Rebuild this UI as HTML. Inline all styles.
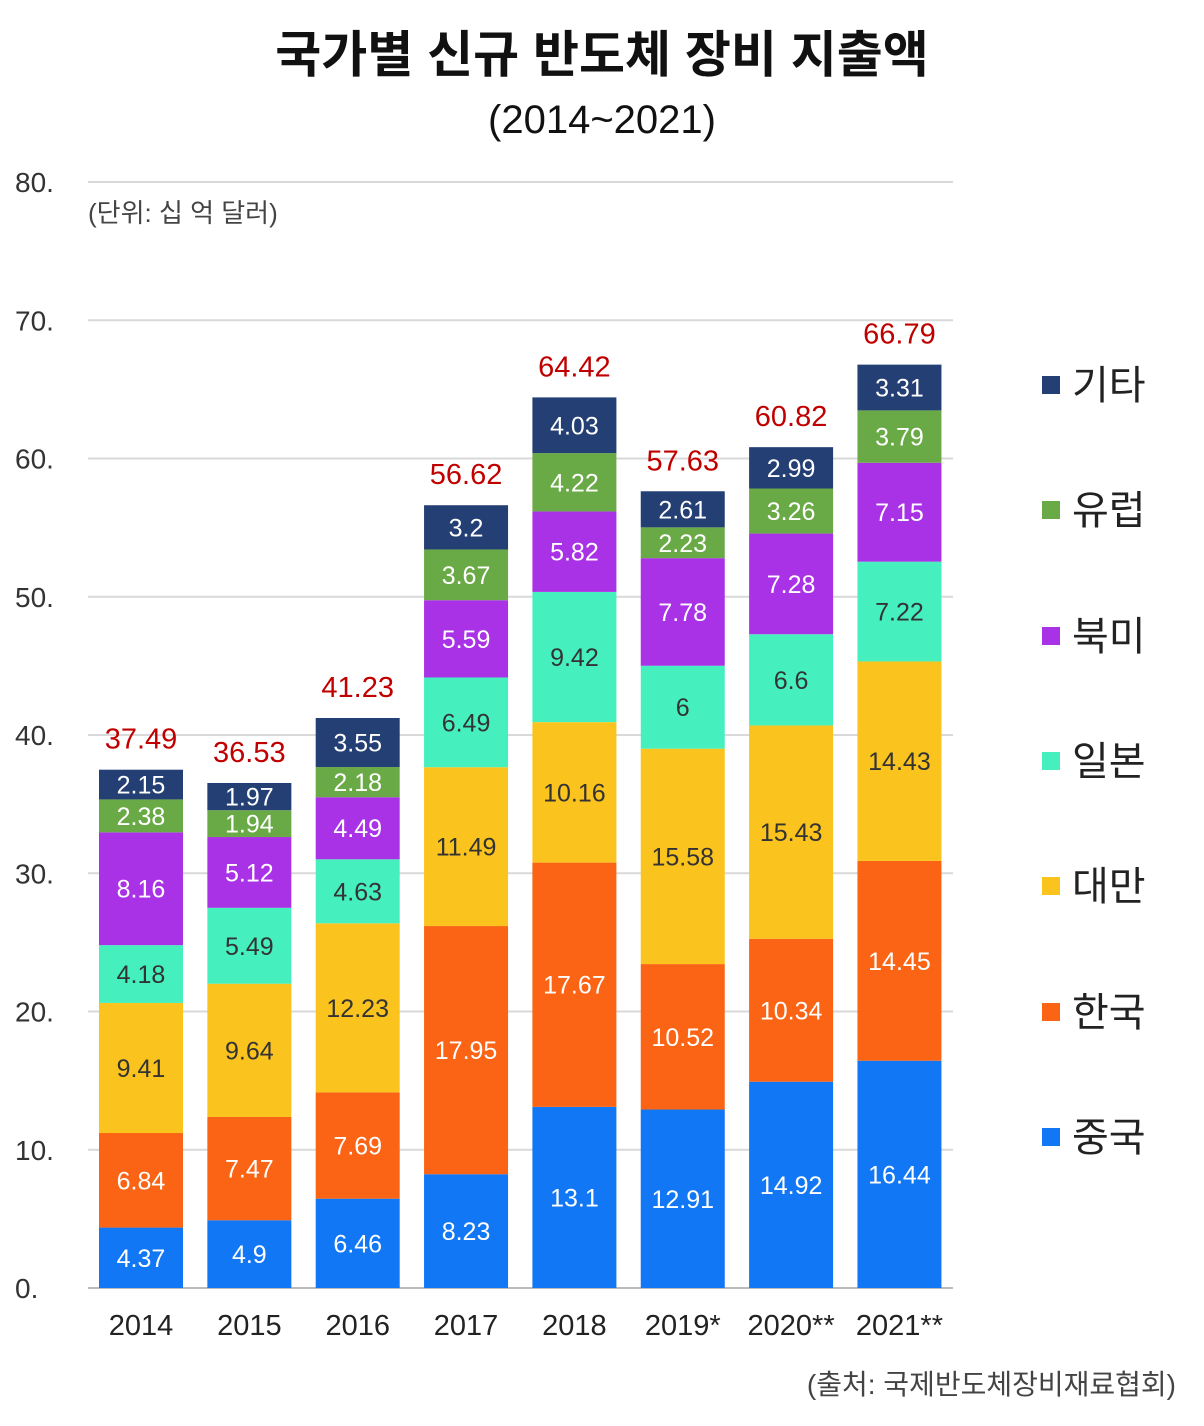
<!DOCTYPE html>
<html><head><meta charset="utf-8">
<style>
body{margin:0;background:#fff;}
svg text{font-family:"Liberation Sans","Noto Sans CJK KR",sans-serif;}
</style></head>
<body>
<svg id="chart" width="1204" height="1421" xmlns="http://www.w3.org/2000/svg">
<rect width="1204" height="1421" fill="#fff"/>
<text x="602" y="72" text-anchor="middle" font-size="50" font-weight="600" fill="#111">국가별 신규 반도체 장비 지출액</text>
<text x="602" y="133" text-anchor="middle" font-size="40" fill="#111">(2014~2021)</text>
<text x="88" y="222" font-size="26" fill="#444">(단위: 십 억 달러)</text>
<text x="1176" y="1394" text-anchor="end" font-size="28" fill="#444">(출처: 국제반도체장비재료협회)</text>
<g id="grid"></g><g id="bars"></g><g id="legend"></g>
</svg>
<script>
const years=["2014","2015","2016","2017","2018","2019*","2020**","2021**"];
const seriesNames=["중국","한국","대만","일본","북미","유럽","기타"];
const china=[4.37,4.9,6.46,8.23,13.1,12.91,14.92,16.44];
const korea=[6.84,7.47,7.69,17.95,17.67,10.52,10.34,14.45];
const taiwan=[9.41,9.64,12.23,11.49,10.16,15.58,15.43,14.43];
const japan=[4.18,5.49,4.63,6.49,9.42,6,6.6,7.22];
const northAmerica=[8.16,5.12,4.49,5.59,5.82,7.78,7.28,7.15];
const europe=[2.38,1.94,2.18,3.67,4.22,2.23,3.26,3.79];
const others=[2.15,1.97,3.55,3.2,4.03,2.61,2.99,3.31];
const totals=[37.49,36.53,41.23,56.62,64.42,57.63,60.82,66.79];
const yTicks=[0,10,20,30,40,50,60,70,80];
const series=[china,korea,taiwan,japan,northAmerica,europe,others];
const colors=["#1177f5","#fa6414","#fac31e","#46f0be","#aa32e6","#6aaa46","#243f73"];
const labelColors=["#fff","#fff","#333","#333","#fff","#fff","#fff"];
const NS="http://www.w3.org/2000/svg";
const y=v=>1288-v*13.825;
const xc=i=>141+i*108.35;
const bw=84;
function mk(tag,attrs,parent,txt){const e=document.createElementNS(NS,tag);for(const k in attrs)e.setAttribute(k,attrs[k]);if(txt!==undefined)e.textContent=txt;parent.appendChild(e);return e;}
const grid=document.getElementById('grid'),bars=document.getElementById('bars'),legend=document.getElementById('legend');
yTicks.forEach(t=>{
 const l=mk('line',{x1:88,x2:953,y1:y(t),y2:y(t),stroke:t===0?'#bbb':'#d9d9d9','stroke-width':2},grid);
 
 
 const tx=mk('text',{x:15,y:y(t)+10,'font-size':28,fill:'#333'},grid,t+'.');
 
 
});
years.forEach((yr,i)=>{
 let base=0;
 series.forEach((s,k)=>{
  const v=s[i];
  const r=mk('rect',{x:xc(i)-bw/2,y:y(base+v),width:bw,height:y(base)-y(base+v),fill:colors[k]},bars);
  
  
  const t=mk('text',{x:xc(i),y:(y(base)+y(base+v))/2+9,'text-anchor':'middle','font-size':25,fill:labelColors[k]},bars,String(v));
  
  
  base+=v;
 });
 const tt=mk('text',{x:xc(i),y:y(base)-21,'text-anchor':'middle','font-size':29,fill:'#c00000'},bars,String(totals[i]));
 
 
 const xl=mk('text',{x:xc(i),y:1335,'text-anchor':'middle','font-size':29,fill:'#222'},bars,yr);
 
 
});
const legY=[1137,1012,886,761,636,510,385];
seriesNames.forEach((n,k)=>{
 const g=mk('g',{},legend);
 
 
 mk('rect',{x:1042,y:legY[k]-9,width:18,height:18,fill:colors[k]},g);
 mk('text',{x:1072,y:legY[k]+14,'font-size':40,fill:'#222'},g,n);
});
</script>
</body></html>
